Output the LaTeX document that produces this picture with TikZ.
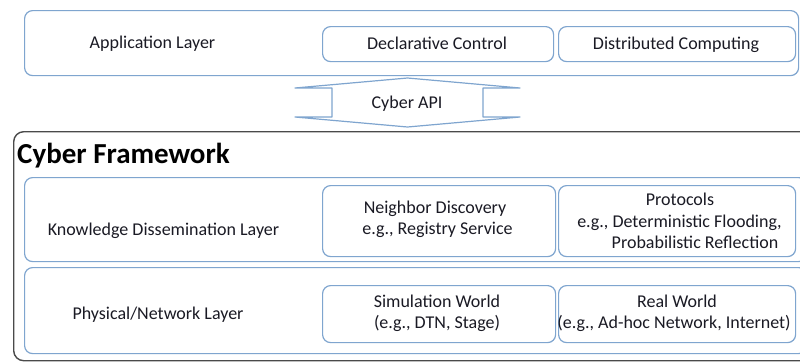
\documentclass[tikz,border=0pt]{standalone}
\usepackage{fontspec}
\setmainfont{Carlito}
\definecolor{boxblue}{HTML}{7FA5CF}
\definecolor{txtc}{HTML}{1A1A24}
\definecolor{fwgray}{HTML}{4A4A4A}
\begin{document}
\begin{tikzpicture}[x=1pt,y=-1pt,
  box/.style={draw=boxblue, line width=1.2pt, rounded corners=8pt, fill=white,
    inner sep=0pt, anchor=north west},
  fwbox/.style={draw=fwgray, line width=1.4pt, rounded corners=10pt, fill=white,
    inner sep=0pt, anchor=north west},
  lbl/.style={anchor=base, inner sep=0pt, text=txtc, font=\fontsize{18}{21}\selectfont},
  title/.style={anchor=base west, inner sep=0pt, text=black, font=\bfseries\fontsize{29}{34}\selectfont},
  apishape/.style={draw=boxblue, line width=1.2pt, fill=white, line join=round}
]
\useasboundingbox (0,0) rectangle (800,362);
\fill[white] (0,0) rectangle (800,362);
\begin{scope}
\clip (0,0) rectangle (800,362);
% application layer
\node[box, minimum width=774pt, minimum height=65pt] (app) at (24,10) {};
\node[box, minimum width=231pt, minimum height=35pt] (decl) at (322,26) {};
\node[box, minimum width=237pt, minimum height=35pt] (dist) at (558,26) {};
\node[lbl] (applbl) at (152.5,48) {Application Layer};
\node[lbl] (decllbl) at (437,49) {Declarative Control};
\node[lbl] (distlbl) at (676,49) {Distributed Computing};
% cyber api
\draw[apishape] (295,88) -- (407.5,78) -- (520,88) -- (483,88) -- (483,117) -- (520,117)
  -- (407.5,127) -- (295,117) -- (332,117) -- (332,88) -- cycle;
\node[lbl] (api) at (407,108) {Cyber API};
% framework
\node[fwbox, minimum width=800pt, minimum height=229pt] (fw) at (13,131) {};
\node[title] (fwtitle) at (17,163) {Cyber Framework};
% knowledge dissemination layer
\node[box, minimum width=782pt, minimum height=84pt] (know) at (24,177) {};
\node[box, minimum width=233pt, minimum height=71pt] (nbr) at (322,185) {};
\node[box, minimum width=237pt, minimum height=71pt] (proto) at (558,185) {};
\node[lbl] (knowlbl) at (163.5,235) {Knowledge Dissemination Layer};
\node[lbl] (nbra) at (435,213) {Neighbor Discovery};
\node[lbl] (nbrb) at (437.5,234) {e.g., Registry Service};
\node[lbl] (protoa) at (680,205) {Protocols};
\node[lbl] (protob) at (679.5,227) {e.g., Deterministic Flooding,};
\node[lbl] (protoc) at (695,248) {Probabilistic Reflection};
% physical / network layer
\node[box, minimum width=782pt, minimum height=86pt] (phys) at (24,267) {};
\node[box, minimum width=233pt, minimum height=57pt] (sim) at (322,285) {};
\node[box, minimum width=237pt, minimum height=57pt] (real) at (558,285) {};
\node[lbl] (physlbl) at (158,319) {Physical/Network Layer};
\node[lbl] (sima) at (437,307) {Simulation World};
\node[lbl] (simb) at (437,328) {(e.g., DTN, Stage)};
\node[lbl] (reala) at (677,307) {Real World};
\node[lbl] (realb) at (674,328) {(e.g., Ad-hoc Network, Internet)};
\end{scope}
\end{tikzpicture}
\end{document}
